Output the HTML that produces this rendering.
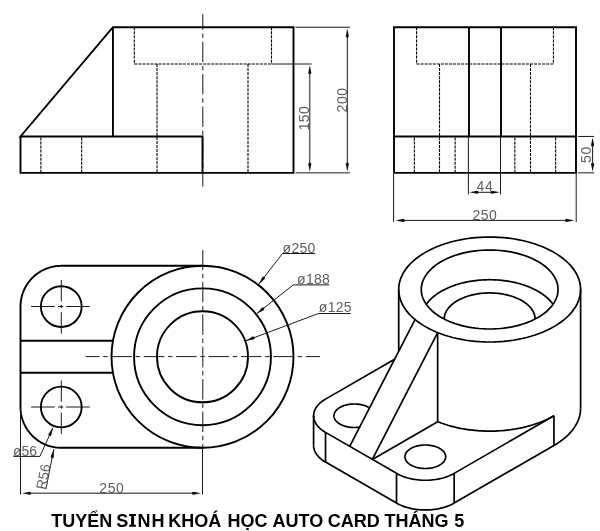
<!DOCTYPE html>
<html><head><meta charset="utf-8"><style>
html,body{margin:0;padding:0;background:#fff;width:600px;height:531px;overflow:hidden}
svg{display:block;filter:grayscale(1)}
text{font-family:"Liberation Sans",sans-serif;fill:#5e5e5e}
</style></head><body>
<svg width="600" height="531" viewBox="0 0 600 531">
<line x1="40.88" y1="172.85" x2="40.88" y2="136.45" stroke="#000" stroke-width="1.1" fill="none" stroke-dasharray="3 1.05"/>
<line x1="81.65" y1="172.85" x2="81.65" y2="136.45" stroke="#000" stroke-width="1.1" fill="none" stroke-dasharray="3 1.05"/>
<line x1="134.3" y1="27.25" x2="134.3" y2="64" stroke="#000" stroke-width="1.1" fill="none" stroke-dasharray="3 1.05"/>
<line x1="271.5" y1="27.25" x2="271.5" y2="64" stroke="#000" stroke-width="1.1" fill="none" stroke-dasharray="3 1.05"/>
<line x1="134.3" y1="64" x2="271.5" y2="64" stroke="#000" stroke-width="1.1" fill="none" stroke-dasharray="3 1.05"/>
<line x1="157" y1="64" x2="157" y2="172.85" stroke="#000" stroke-width="1.1" fill="none" stroke-dasharray="3 1.05"/>
<line x1="248" y1="64" x2="248" y2="172.85" stroke="#000" stroke-width="1.1" fill="none" stroke-dasharray="3 1.05"/>
<line x1="202.8" y1="14.2" x2="202.8" y2="29.75" stroke="#1a1a1a" stroke-width="1" fill="none"/>
<line x1="202.8" y1="33.45" x2="202.8" y2="37.95" stroke="#1a1a1a" stroke-width="1" fill="none"/>
<line x1="202.8" y1="41.65" x2="202.8" y2="62.15" stroke="#1a1a1a" stroke-width="1" fill="none"/>
<line x1="202.8" y1="65.85" x2="202.8" y2="70.35" stroke="#1a1a1a" stroke-width="1" fill="none"/>
<line x1="202.8" y1="74.05" x2="202.8" y2="94.55" stroke="#1a1a1a" stroke-width="1" fill="none"/>
<line x1="202.8" y1="98.25" x2="202.8" y2="102.75" stroke="#1a1a1a" stroke-width="1" fill="none"/>
<line x1="202.8" y1="106.45" x2="202.8" y2="126.95" stroke="#1a1a1a" stroke-width="1" fill="none"/>
<line x1="202.8" y1="130.65" x2="202.8" y2="135.15" stroke="#1a1a1a" stroke-width="1" fill="none"/>
<line x1="202.8" y1="138.85" x2="202.8" y2="159.35" stroke="#1a1a1a" stroke-width="1" fill="none"/>
<line x1="202.8" y1="163.05" x2="202.8" y2="167.55" stroke="#1a1a1a" stroke-width="1" fill="none"/>
<line x1="202.8" y1="171.25" x2="202.8" y2="186.7" stroke="#1a1a1a" stroke-width="1" fill="none"/>
<path d="M20.5 136.45 L20.5 172.85 L293.5 172.85 L293.5 27.25 L112.92 27.25 L20.5 136.45 L202.5 136.45 L202.5 172.85" stroke="#000" stroke-width="1.9" fill="none"/>
<line x1="112.92" y1="27.25" x2="112.92" y2="136.45" stroke="#000" stroke-width="1.9" fill="none"/>
<line x1="295.5" y1="27.25" x2="350" y2="27.25" stroke="#1a1a1a" stroke-width="1" fill="none"/>
<line x1="271.5" y1="64" x2="311.6" y2="64" stroke="#1a1a1a" stroke-width="1" fill="none"/>
<line x1="295.5" y1="172.85" x2="350" y2="172.85" stroke="#1a1a1a" stroke-width="1" fill="none"/>
<line x1="309.8" y1="72" x2="309.8" y2="164.85" stroke="#1a1a1a" stroke-width="1" fill="none"/>
<path d="M309.8 65.2 L311.35 72.8 A1.55 1.55 0 0 1 308.25 72.8 Z" fill="#111"/>
<path d="M309.8 171.65 L308.25 164.05 A1.55 1.55 0 0 1 311.35 164.05 Z" fill="#111"/>
<line x1="347.3" y1="35.25" x2="347.3" y2="164.85" stroke="#1a1a1a" stroke-width="1" fill="none"/>
<path d="M347.3 28.45 L348.85 36.05 A1.55 1.55 0 0 1 345.75 36.05 Z" fill="#111"/>
<path d="M347.3 171.65 L345.75 164.05 A1.55 1.55 0 0 1 348.85 164.05 Z" fill="#111"/>
<text x="309" y="118.3" font-size="14" text-anchor="middle" transform="rotate(-90 309 118.3)" textLength="24">150</text>
<text x="347" y="100.2" font-size="14" text-anchor="middle" transform="rotate(-90 347 100.2)" textLength="24.5">200</text>
<line x1="414.38" y1="172.85" x2="414.38" y2="136.45" stroke="#000" stroke-width="1.1" fill="none" stroke-dasharray="3 1.05"/>
<line x1="455.15" y1="172.85" x2="455.15" y2="136.45" stroke="#000" stroke-width="1.1" fill="none" stroke-dasharray="3 1.05"/>
<line x1="514.85" y1="172.85" x2="514.85" y2="136.45" stroke="#000" stroke-width="1.1" fill="none" stroke-dasharray="3 1.05"/>
<line x1="555.62" y1="172.85" x2="555.62" y2="136.45" stroke="#000" stroke-width="1.1" fill="none" stroke-dasharray="3 1.05"/>
<line x1="416.57" y1="27.25" x2="416.57" y2="64" stroke="#000" stroke-width="1.1" fill="none" stroke-dasharray="3 1.05"/>
<line x1="553.43" y1="27.25" x2="553.43" y2="64" stroke="#000" stroke-width="1.1" fill="none" stroke-dasharray="3 1.05"/>
<line x1="416.57" y1="64" x2="553.43" y2="64" stroke="#000" stroke-width="1.1" fill="none" stroke-dasharray="3 1.05"/>
<line x1="439.5" y1="64" x2="439.5" y2="172.85" stroke="#000" stroke-width="1.1" fill="none" stroke-dasharray="3 1.05"/>
<line x1="530.5" y1="64" x2="530.5" y2="172.85" stroke="#000" stroke-width="1.1" fill="none" stroke-dasharray="3 1.05"/>
<path d="M394 172.85 L576 172.85 L576 27.25 L394 27.25 L394 172.85" stroke="#000" stroke-width="1.9" fill="none"/>
<line x1="394" y1="136.45" x2="576" y2="136.45" stroke="#000" stroke-width="1.9" fill="none"/>
<line x1="468.98" y1="27.25" x2="468.98" y2="136.45" stroke="#000" stroke-width="1.9" fill="none"/>
<line x1="501.02" y1="27.25" x2="501.02" y2="136.45" stroke="#000" stroke-width="1.9" fill="none"/>
<line x1="468.4" y1="136.45" x2="468.4" y2="194.3" stroke="#1a1a1a" stroke-width="1" fill="none"/>
<line x1="500.5" y1="136.45" x2="500.5" y2="194.3" stroke="#1a1a1a" stroke-width="1" fill="none"/>
<line x1="476.4" y1="192.3" x2="492.5" y2="192.3" stroke="#1a1a1a" stroke-width="1" fill="none"/>
<path d="M469.4 192.3 L477 190.75 A1.55 1.55 0 0 1 477 193.85 Z" fill="#111"/>
<path d="M499.7 192.3 L492.1 193.85 A1.55 1.55 0 0 1 492.1 190.75 Z" fill="#111"/>
<text x="484.6" y="190.8" font-size="14" text-anchor="middle" textLength="16.2">44</text>
<line x1="393.6" y1="172.85" x2="393.6" y2="222" stroke="#1a1a1a" stroke-width="1" fill="none"/>
<line x1="576.2" y1="172.85" x2="576.2" y2="222" stroke="#1a1a1a" stroke-width="1" fill="none"/>
<line x1="402.6" y1="220.4" x2="567.2" y2="220.4" stroke="#1a1a1a" stroke-width="1" fill="none"/>
<path d="M395.6 220.4 L403.2 218.85 A1.55 1.55 0 0 1 403.2 221.95 Z" fill="#111"/>
<path d="M574.2 220.4 L566.6 221.95 A1.55 1.55 0 0 1 566.6 218.85 Z" fill="#111"/>
<text x="484.7" y="219.8" font-size="14" text-anchor="middle" textLength="24.4">250</text>
<line x1="578" y1="172.85" x2="594.2" y2="172.85" stroke="#1a1a1a" stroke-width="1" fill="none"/>
<line x1="578" y1="136.45" x2="594.2" y2="136.45" stroke="#1a1a1a" stroke-width="1" fill="none"/>
<line x1="592.6" y1="144.45" x2="592.6" y2="164.85" stroke="#1a1a1a" stroke-width="1" fill="none"/>
<path d="M592.6 137.45 L594.15 145.05 A1.55 1.55 0 0 1 591.05 145.05 Z" fill="#111"/>
<path d="M592.6 171.85 L591.05 164.25 A1.55 1.55 0 0 1 594.15 164.25 Z" fill="#111"/>
<text x="591.4" y="154.8" font-size="14" text-anchor="middle" transform="rotate(-90 591.4 154.8)" textLength="16.4">50</text>
<line x1="85.5" y1="356.6" x2="99.45" y2="356.6" stroke="#1a1a1a" stroke-width="1" fill="none"/>
<line x1="103.15" y1="356.6" x2="107.65" y2="356.6" stroke="#1a1a1a" stroke-width="1" fill="none"/>
<line x1="111.35" y1="356.6" x2="131.85" y2="356.6" stroke="#1a1a1a" stroke-width="1" fill="none"/>
<line x1="135.55" y1="356.6" x2="140.05" y2="356.6" stroke="#1a1a1a" stroke-width="1" fill="none"/>
<line x1="143.75" y1="356.6" x2="164.25" y2="356.6" stroke="#1a1a1a" stroke-width="1" fill="none"/>
<line x1="167.95" y1="356.6" x2="172.45" y2="356.6" stroke="#1a1a1a" stroke-width="1" fill="none"/>
<line x1="176.15" y1="356.6" x2="196.65" y2="356.6" stroke="#1a1a1a" stroke-width="1" fill="none"/>
<line x1="200.35" y1="356.6" x2="204.85" y2="356.6" stroke="#1a1a1a" stroke-width="1" fill="none"/>
<line x1="208.55" y1="356.6" x2="229.05" y2="356.6" stroke="#1a1a1a" stroke-width="1" fill="none"/>
<line x1="232.75" y1="356.6" x2="237.25" y2="356.6" stroke="#1a1a1a" stroke-width="1" fill="none"/>
<line x1="240.95" y1="356.6" x2="261.45" y2="356.6" stroke="#1a1a1a" stroke-width="1" fill="none"/>
<line x1="265.15" y1="356.6" x2="269.65" y2="356.6" stroke="#1a1a1a" stroke-width="1" fill="none"/>
<line x1="273.35" y1="356.6" x2="293.85" y2="356.6" stroke="#1a1a1a" stroke-width="1" fill="none"/>
<line x1="297.55" y1="356.6" x2="302.05" y2="356.6" stroke="#1a1a1a" stroke-width="1" fill="none"/>
<line x1="305.75" y1="356.6" x2="320" y2="356.6" stroke="#1a1a1a" stroke-width="1" fill="none"/>
<line x1="202.8" y1="250" x2="202.8" y2="270.05" stroke="#1a1a1a" stroke-width="1" fill="none"/>
<line x1="202.8" y1="273.75" x2="202.8" y2="278.25" stroke="#1a1a1a" stroke-width="1" fill="none"/>
<line x1="202.8" y1="281.95" x2="202.8" y2="302.45" stroke="#1a1a1a" stroke-width="1" fill="none"/>
<line x1="202.8" y1="306.15" x2="202.8" y2="310.65" stroke="#1a1a1a" stroke-width="1" fill="none"/>
<line x1="202.8" y1="314.35" x2="202.8" y2="334.85" stroke="#1a1a1a" stroke-width="1" fill="none"/>
<line x1="202.8" y1="338.55" x2="202.8" y2="343.05" stroke="#1a1a1a" stroke-width="1" fill="none"/>
<line x1="202.8" y1="346.75" x2="202.8" y2="367.25" stroke="#1a1a1a" stroke-width="1" fill="none"/>
<line x1="202.8" y1="370.95" x2="202.8" y2="375.45" stroke="#1a1a1a" stroke-width="1" fill="none"/>
<line x1="202.8" y1="379.15" x2="202.8" y2="399.65" stroke="#1a1a1a" stroke-width="1" fill="none"/>
<line x1="202.8" y1="403.35" x2="202.8" y2="407.85" stroke="#1a1a1a" stroke-width="1" fill="none"/>
<line x1="202.8" y1="411.55" x2="202.8" y2="432.05" stroke="#1a1a1a" stroke-width="1" fill="none"/>
<line x1="202.8" y1="435.75" x2="202.8" y2="440.25" stroke="#1a1a1a" stroke-width="1" fill="none"/>
<line x1="202.8" y1="443.95" x2="202.8" y2="447" stroke="#1a1a1a" stroke-width="1" fill="none"/>
<line x1="31.1" y1="306.5" x2="54.75" y2="306.5" stroke="#1a1a1a" stroke-width="1" fill="none"/>
<line x1="58" y1="306.5" x2="63.3" y2="306.5" stroke="#1a1a1a" stroke-width="1" fill="none"/>
<line x1="66.1" y1="306.5" x2="89.8" y2="306.5" stroke="#1a1a1a" stroke-width="1" fill="none"/>
<line x1="61.3" y1="280" x2="61.3" y2="301.4" stroke="#1a1a1a" stroke-width="1" fill="none"/>
<line x1="61.3" y1="304.8" x2="61.3" y2="308.2" stroke="#1a1a1a" stroke-width="1" fill="none"/>
<line x1="61.3" y1="312.2" x2="61.3" y2="333.6" stroke="#1a1a1a" stroke-width="1" fill="none"/>
<line x1="31.1" y1="407" x2="54.75" y2="407" stroke="#1a1a1a" stroke-width="1" fill="none"/>
<line x1="58" y1="407" x2="63.3" y2="407" stroke="#1a1a1a" stroke-width="1" fill="none"/>
<line x1="66.1" y1="407" x2="89.8" y2="407" stroke="#1a1a1a" stroke-width="1" fill="none"/>
<line x1="61.3" y1="380.5" x2="61.3" y2="401.9" stroke="#1a1a1a" stroke-width="1" fill="none"/>
<line x1="61.3" y1="405.3" x2="61.3" y2="408.7" stroke="#1a1a1a" stroke-width="1" fill="none"/>
<line x1="61.3" y1="412.7" x2="61.3" y2="434.1" stroke="#1a1a1a" stroke-width="1" fill="none"/>
<circle cx="202.5" cy="356.8" r="91" stroke="#000" stroke-width="1.9" fill="none"/>
<circle cx="202.5" cy="356.8" r="68.43" stroke="#000" stroke-width="1.9" fill="none"/>
<circle cx="202.5" cy="356.8" r="45.5" stroke="#000" stroke-width="1.9" fill="none"/>
<circle cx="61.27" cy="306.57" r="20.38" stroke="#000" stroke-width="1.9" fill="none"/>
<circle cx="61.27" cy="407.03" r="20.38" stroke="#000" stroke-width="1.9" fill="none"/>
<path d="M202.5 265.8 L61.27 265.8 L59.67 265.83 L58.07 265.93 L56.48 266.08 L54.89 266.3 L53.31 266.58 L51.75 266.93 L50.2 267.33 L48.67 267.8 L47.16 268.32 L45.67 268.9 L44.2 269.54 L42.76 270.24 L41.35 271 L39.97 271.81 L38.62 272.67 L37.31 273.59 L36.03 274.55 L34.79 275.57 L33.59 276.63 L32.44 277.74 L31.33 278.89 L30.27 280.09 L29.25 281.33 L28.29 282.61 L27.37 283.92 L26.51 285.27 L25.7 286.65 L24.94 288.06 L24.24 289.5 L23.6 290.97 L23.02 292.46 L22.5 293.97 L22.03 295.5 L21.63 297.05 L21.28 298.61 L21 300.19 L20.78 301.78 L20.63 303.37 L20.53 304.97 L20.5 306.57 L20.5 407.03 L20.53 408.63 L20.63 410.23 L20.78 411.82 L21 413.41 L21.28 414.99 L21.63 416.55 L22.03 418.1 L22.5 419.63 L23.02 421.14 L23.6 422.63 L24.24 424.1 L24.94 425.54 L25.7 426.95 L26.51 428.33 L27.37 429.68 L28.29 430.99 L29.25 432.27 L30.27 433.51 L31.33 434.71 L32.44 435.86 L33.59 436.97 L34.79 438.03 L36.03 439.05 L37.31 440.01 L38.62 440.93 L39.97 441.79 L41.35 442.6 L42.76 443.36 L44.2 444.06 L45.67 444.7 L47.16 445.28 L48.67 445.8 L50.2 446.27 L51.75 446.67 L53.31 447.02 L54.89 447.3 L56.48 447.52 L58.07 447.67 L59.67 447.77 L61.27 447.8 L202.5 447.8" stroke="#000" stroke-width="1.9" fill="none"/>
<line x1="20.5" y1="340.78" x2="112.92" y2="340.78" stroke="#000" stroke-width="1.9" fill="none"/>
<line x1="20.5" y1="372.82" x2="112.92" y2="372.82" stroke="#000" stroke-width="1.9" fill="none"/>
<line x1="20.5" y1="407.76" x2="20.5" y2="494.5" stroke="#1a1a1a" stroke-width="1" fill="none"/>
<line x1="202.5" y1="447.8" x2="202.5" y2="494.5" stroke="#1a1a1a" stroke-width="1" fill="none"/>
<line x1="29.5" y1="493.2" x2="193.5" y2="493.2" stroke="#1a1a1a" stroke-width="1" fill="none"/>
<path d="M22 493.2 L29.6 491.65 A1.55 1.55 0 0 1 29.6 494.75 Z" fill="#111"/>
<path d="M201 493.2 L193.4 494.75 A1.55 1.55 0 0 1 193.4 491.65 Z" fill="#111"/>
<text x="111.6" y="492.6" font-size="14" text-anchor="middle" textLength="24.5">250</text>
<line x1="282.5" y1="253.5" x2="315.1" y2="253.5" stroke="#1a1a1a" stroke-width="1" fill="none"/>
<line x1="282.5" y1="253.5" x2="258.79" y2="284.16" stroke="#1a1a1a" stroke-width="1" fill="none"/>
<path d="M258.79 284.16 L262.21 277.2 A1.55 1.55 0 0 1 264.67 279.09 Z" fill="#111"/>
<text x="282.6" y="252.5" font-size="14" text-anchor="start" textLength="32.8">&#248;250</text>
<line x1="293.2" y1="284.9" x2="329.2" y2="284.9" stroke="#1a1a1a" stroke-width="1" fill="none"/>
<line x1="293.2" y1="284.9" x2="256.78" y2="313.67" stroke="#1a1a1a" stroke-width="1" fill="none"/>
<path d="M256.78 313.67 L261.79 307.74 A1.55 1.55 0 0 1 263.71 310.18 Z" fill="#111"/>
<text x="297.1" y="284.4" font-size="14" text-anchor="start" textLength="32.8">&#248;188</text>
<line x1="318.5" y1="313.5" x2="350.9" y2="313.5" stroke="#1a1a1a" stroke-width="1" fill="none"/>
<line x1="318.5" y1="313.5" x2="246.01" y2="340.67" stroke="#1a1a1a" stroke-width="1" fill="none"/>
<path d="M246.01 340.67 L252.58 336.55 A1.55 1.55 0 0 1 253.67 339.46 Z" fill="#111"/>
<text x="318.8" y="312.3" font-size="14" text-anchor="start" textLength="32.8">&#248;125</text>
<line x1="13.3" y1="456.4" x2="39.9" y2="456.4" stroke="#1a1a1a" stroke-width="1" fill="none"/>
<line x1="39.9" y1="456.4" x2="53" y2="427.6" stroke="#1a1a1a" stroke-width="1" fill="none"/>
<path d="M53 427.6 L51.26 435.16 A1.55 1.55 0 0 1 48.44 433.88 Z" fill="#111"/>
<text x="13" y="456.1" font-size="14" text-anchor="start">&#248;56</text>
<line x1="45.9" y1="489.3" x2="53.8" y2="449.2" stroke="#1a1a1a" stroke-width="1" fill="none"/>
<path d="M53.8 449.2 L53.85 456.96 A1.55 1.55 0 0 1 50.81 456.36 Z" fill="#111"/>
<text x="45.6" y="490.3" font-size="14" text-anchor="start" transform="rotate(-78.86 45.6 490.3)">R56</text>
<path d="M553.96 252.37 L557.24 254.36 L560.33 256.45 L563.23 258.63 L565.93 260.9 L568.42 263.24 L570.69 265.66 L572.74 268.14 L574.56 270.68 L576.15 273.27 L577.5 275.91 L578.62 278.58 L579.48 281.29 L580.1 284.01 L580.48 286.75 L580.6 289.5 L580.48 292.25 L580.1 294.99 L579.48 297.71 L578.62 300.42 L577.5 303.09 L576.15 305.73 L574.56 308.32 L572.74 310.86 L570.69 313.34 L568.42 315.76 L565.93 318.1 L563.23 320.37 L560.33 322.55 L557.24 324.64 L553.96 326.63 L550.51 328.52 L546.89 330.31 L543.11 331.98 L539.19 333.54 L535.13 334.98 L530.94 336.29 L526.64 337.47 L522.24 338.52 L517.76 339.44 L513.19 340.22 L508.56 340.86 L503.88 341.37 L499.16 341.72 L494.41 341.94 L489.65 342.01 L484.89 341.94 L480.14 341.72 L475.42 341.37 L470.74 340.86 L466.11 340.22 L461.54 339.44 L457.06 338.52 L452.66 337.47 L448.36 336.29 L444.17 334.98 L440.11 333.54 L436.19 331.98 L432.41 330.31 L428.79 328.52 L425.34 326.63 L422.06 324.64 L418.97 322.55 L416.07 320.37 L413.37 318.1 L410.88 315.76 L408.61 313.34 L406.56 310.86 L404.74 308.32 L403.15 305.73 L401.8 303.09 L400.68 300.42 L399.82 297.71 L399.2 294.99 L398.82 292.25 L398.7 289.5 L398.82 286.75 L399.2 284.01 L399.82 281.29 L400.68 278.58 L401.8 275.91 L403.15 273.27 L404.74 270.68 L406.56 268.14 L408.61 265.66 L410.88 263.24 L413.37 260.9 L416.07 258.63 L418.97 256.45 L422.06 254.36 L425.34 252.37 L428.79 250.48 L432.41 248.69 L436.19 247.02 L440.11 245.46 L444.17 244.02 L448.36 242.71 L452.66 241.53 L457.06 240.48 L461.54 239.56 L466.11 238.78 L470.74 238.14 L475.42 237.63 L480.14 237.28 L484.89 237.06 L489.65 236.99 L494.41 237.06 L499.16 237.28 L503.88 237.63 L508.56 238.14 L513.19 238.78 L517.76 239.56 L522.24 240.48 L526.64 241.53 L530.94 242.71 L535.13 244.02 L539.19 245.46 L543.11 247.02 L546.89 248.69 L550.51 250.48 L553.96 252.37" stroke="#000" stroke-width="1.7" fill="none"/>
<path d="M538.01 261.58 L540.48 263.08 L542.8 264.65 L544.98 266.29 L547.01 267.99 L548.88 269.76 L550.59 271.57 L552.13 273.44 L553.5 275.35 L554.7 277.3 L555.72 279.28 L556.55 281.29 L557.2 283.32 L557.67 285.37 L557.95 287.43 L558.05 289.5 L557.95 291.57 L557.67 293.63 L557.2 295.68 L556.55 297.71 L555.72 299.72 L554.7 301.7 L553.5 303.65 L552.13 305.56 L550.59 307.43 L548.88 309.24 L547.01 311.01 L544.98 312.71 L542.8 314.35 L540.48 315.92 L538.01 317.42 L535.42 318.85 L532.69 320.19 L529.85 321.45 L526.9 322.62 L523.85 323.7 L520.7 324.68 L517.47 325.57 L514.16 326.37 L510.79 327.06 L507.35 327.64 L503.87 328.13 L500.35 328.5 L496.8 328.77 L493.23 328.93 L489.65 328.99 L486.07 328.93 L482.5 328.77 L478.95 328.5 L475.43 328.13 L471.95 327.64 L468.51 327.06 L465.14 326.37 L461.83 325.57 L458.6 324.68 L455.45 323.7 L452.4 322.62 L449.45 321.45 L446.61 320.19 L443.88 318.85 L441.29 317.42 L438.82 315.92 L436.5 314.35 L434.32 312.71 L432.29 311.01 L430.42 309.24 L428.71 307.43 L427.17 305.56 L425.8 303.65 L424.6 301.7 L423.58 299.72 L422.75 297.71 L422.1 295.68 L421.63 293.63 L421.35 291.57 L421.25 289.5 L421.35 287.43 L421.63 285.37 L422.1 283.32 L422.75 281.29 L423.58 279.28 L424.6 277.3 L425.8 275.35 L427.17 273.44 L428.71 271.57 L430.42 269.76 L432.29 267.99 L434.32 266.29 L436.5 264.65 L438.82 263.08 L441.29 261.58 L443.88 260.15 L446.61 258.81 L449.45 257.55 L452.4 256.38 L455.45 255.3 L458.6 254.32 L461.83 253.43 L465.14 252.63 L468.51 251.94 L471.95 251.36 L475.43 250.87 L478.95 250.5 L482.5 250.23 L486.07 250.07 L489.65 250.01 L493.23 250.07 L496.8 250.23 L500.35 250.5 L503.87 250.87 L507.35 251.36 L510.79 251.94 L514.16 252.63 L517.47 253.43 L520.7 254.32 L523.85 255.3 L526.9 256.38 L529.85 257.55 L532.69 258.81 L535.42 260.15 L538.01 261.58" stroke="#000" stroke-width="1.7" fill="none"/>
<path d="M426.46 304.09 L427.26 303.03 L428.11 301.97 L429.02 300.93 L429.97 299.91 L430.98 298.9 L432.05 297.92 L433.16 296.94 L434.32 295.99 L435.52 295.06 L436.78 294.15 L438.08 293.27 L439.43 292.4 L440.81 291.56 L442.25 290.74 L443.72 289.95 L445.23 289.18 L446.78 288.44 L448.37 287.72 L449.99 287.03 L451.65 286.37 L453.34 285.74 L455.06 285.14 L456.82 284.56 L458.6 284.02 L460.41 283.51 L462.24 283.03 L464.1 282.58 L465.98 282.16 L467.88 281.77 L469.8 281.42 L471.73 281.1 L473.68 280.81 L475.65 280.55 L477.63 280.33 L479.61 280.14 L481.61 279.99 L483.61 279.87 L485.62 279.78 L487.64 279.73 L489.65 279.72 L491.66 279.73 L493.68 279.78 L495.69 279.87 L497.69 279.99 L499.69 280.14 L501.67 280.33 L503.65 280.55 L505.62 280.81 L507.57 281.1 L509.5 281.42 L511.42 281.77 L513.32 282.16 L515.2 282.58 L517.06 283.03 L518.89 283.51 L520.7 284.02 L522.48 284.56 L524.24 285.14 L525.96 285.74 L527.65 286.37 L529.31 287.03 L530.93 287.72 L532.52 288.44 L534.07 289.18 L535.58 289.95 L537.05 290.74 L538.49 291.56 L539.87 292.4 L541.22 293.27 L542.52 294.15 L543.78 295.06 L544.98 295.99 L546.14 296.94 L547.25 297.92 L548.32 298.9 L549.33 299.91 L550.28 300.93 L551.19 301.97 L552.04 303.03 L552.84 304.09" stroke="#000" stroke-width="1.7" fill="none"/>
<path d="M444.18 318.98 L444.23 317.95 L444.35 316.93 L444.53 315.91 L444.79 314.89 L445.12 313.89 L445.51 312.89 L445.97 311.9 L446.5 310.92 L447.09 309.95 L447.75 309 L448.47 308.06 L449.26 307.14 L450.1 306.24 L451.01 305.36 L451.98 304.5 L453 303.66 L454.08 302.85 L455.21 302.06 L456.4 301.29 L457.63 300.56 L458.92 299.85 L460.25 299.17 L461.63 298.53 L463.05 297.91 L464.51 297.33 L466.01 296.78 L467.54 296.26 L469.11 295.78 L470.71 295.33 L472.34 294.93 L473.99 294.55 L475.67 294.22 L477.37 293.92 L479.09 293.67 L480.83 293.45 L482.58 293.27 L484.33 293.13 L486.1 293.03 L487.87 292.97 L489.65 292.95 L491.43 292.97 L493.2 293.03 L494.97 293.13 L496.72 293.27 L498.47 293.45 L500.21 293.67 L501.93 293.92 L503.63 294.22 L505.31 294.55 L506.96 294.93 L508.59 295.33 L510.19 295.78 L511.76 296.26 L513.29 296.78 L514.79 297.33 L516.25 297.91 L517.67 298.53 L519.05 299.17 L520.38 299.85 L521.67 300.56 L522.9 301.29 L524.09 302.06 L525.22 302.85 L526.3 303.66 L527.32 304.5 L528.29 305.36 L529.2 306.24 L530.04 307.14 L530.83 308.06 L531.55 309 L532.21 309.95 L532.8 310.92 L533.33 311.9 L533.79 312.89 L534.18 313.89 L534.51 314.89 L534.77 315.91 L534.95 316.93 L535.07 317.95 L535.12 318.98" stroke="#000" stroke-width="1.7" fill="none"/>
<line x1="349.7" y1="446.34" x2="415.02" y2="319.52" stroke="#000" stroke-width="1.7" fill="none"/>
<line x1="372.34" y1="459.41" x2="437.66" y2="332.59" stroke="#000" stroke-width="1.7" fill="none"/>
<line x1="437.66" y1="332.59" x2="437.66" y2="421.7" stroke="#000" stroke-width="1.7" fill="none"/>
<line x1="372.34" y1="459.41" x2="437.66" y2="421.7" stroke="#000" stroke-width="1.7" fill="none"/>
<line x1="580.6" y1="289.5" x2="580.6" y2="408.32" stroke="#000" stroke-width="1.7" fill="none"/>
<line x1="398.7" y1="289.5" x2="398.7" y2="351.21" stroke="#000" stroke-width="1.7" fill="none"/>
<path d="M580.6 408.32 L580.57 409.69 L580.48 411.07 L580.32 412.44 L580.1 413.81 L579.82 415.17 L579.48 416.53 L579.08 417.89 L578.62 419.24 L578.09 420.58 L577.5 421.91 L576.86 423.23 L576.15 424.55 L575.39 425.85 L574.56 427.14 L573.68 428.42 L572.74 429.68 L571.74 430.93 L570.69 432.16 L569.58 433.38 L568.42 434.58 L567.2 435.76 L565.93 436.92 L564.61 438.06 L563.23 439.19 L561.81 440.29 L560.33 441.37 L558.81 442.42 L557.24 443.46 L555.62 444.47 L553.96 445.45" stroke="#000" stroke-width="1.7" fill="none"/>
<path d="M553.96 415.75 L552.15 416.77 L550.28 417.76 L548.37 418.72 L546.41 419.65 L544.4 420.55 L542.36 421.41 L540.27 422.24 L538.15 423.04 L535.98 423.8 L533.78 424.53 L531.55 425.22 L529.28 425.88 L526.99 426.5 L524.66 427.08 L522.31 427.63 L519.93 428.13 L517.52 428.6 L515.1 429.03 L512.66 429.42 L510.19 429.77 L507.72 430.08 L505.23 430.35 L502.72 430.58 L500.21 430.77 L497.69 430.92 L495.16 431.03 L492.62 431.1 L490.09 431.13 L487.55 431.11 L485.02 431.06 L482.49 430.96 L479.97 430.83 L477.45 430.65 L474.94 430.44 L472.44 430.18 L469.96 429.88 L467.49 429.54 L465.04 429.17 L462.61 428.75 L460.2 428.3 L457.82 427.8 L455.45 427.27 L453.12 426.7 L450.81 426.1 L448.53 425.45 L446.29 424.77 L444.08 424.06 L441.9 423.31 L439.76 422.52 L437.66 421.7" stroke="#000" stroke-width="1.7" fill="none"/>
<path d="M553.96 415.75 L454.15 473.37 L452.6 474.22 L450.98 475.02 L449.29 475.77 L447.53 476.47 L445.71 477.11 L443.84 477.7 L441.91 478.23 L439.94 478.7 L437.93 479.11 L435.88 479.46 L433.81 479.75 L431.71 479.97 L429.6 480.14 L427.47 480.23 L425.34 480.26 L423.2 480.23 L421.08 480.14 L418.96 479.97 L416.87 479.75 L414.79 479.46 L412.75 479.11 L410.73 478.7 L408.76 478.23 L406.84 477.7 L404.96 477.11 L403.14 476.47 L401.39 475.77 L399.69 475.02 L398.07 474.22 L396.52 473.37 L325.52 432.38 L324.05 431.49 L322.67 430.55 L321.37 429.57 L320.16 428.56 L319.05 427.51 L318.03 426.43 L317.11 425.31 L316.29 424.18 L315.58 423.02 L314.98 421.84 L314.48 420.64 L314.09 419.43 L313.81 418.21 L313.64 416.98 L313.59 415.75 L313.64 414.52 L313.81 413.29 L314.09 412.07 L314.48 410.86 L314.98 409.66 L315.58 408.48 L316.29 407.32 L317.11 406.18 L318.03 405.07 L319.05 403.98 L320.16 402.93 L321.37 401.92 L322.67 400.94 L324.05 400 L325.52 399.11 L394.56 359.26" stroke="#000" stroke-width="1.7" fill="none"/>
<path d="M313.59 445.45 L313.64 446.68 L313.81 447.91 L314.09 449.13 L314.48 450.34 L314.98 451.54 L315.58 452.72 L316.29 453.88 L317.11 455.02 L318.03 456.13 L319.05 457.21 L320.16 458.26 L321.37 459.28 L322.67 460.26 L324.05 461.19 L325.52 462.09 L396.52 503.08 L398.07 503.93 L399.69 504.73 L401.39 505.48 L403.14 506.17 L404.96 506.82 L406.84 507.41 L408.76 507.94 L410.73 508.41 L412.75 508.82 L414.79 509.17 L416.87 509.46 L418.96 509.68 L421.08 509.84 L423.2 509.94 L425.34 509.97 L427.47 509.94 L429.6 509.84 L431.71 509.68 L433.81 509.46 L435.88 509.17 L437.93 508.82 L439.94 508.41 L441.91 507.94 L443.84 507.41 L445.71 506.82 L447.53 506.17 L449.29 505.48 L450.98 504.73 L452.6 503.93 L454.15 503.08 L553.96 445.45" stroke="#000" stroke-width="1.7" fill="none"/>
<line x1="313.59" y1="445.45" x2="313.59" y2="415.75" stroke="#000" stroke-width="1.7" fill="none"/>
<line x1="325.52" y1="462.09" x2="325.52" y2="432.38" stroke="#000" stroke-width="1.7" fill="none"/>
<line x1="396.52" y1="503.08" x2="396.52" y2="473.37" stroke="#000" stroke-width="1.7" fill="none"/>
<line x1="454.15" y1="503.08" x2="454.15" y2="473.37" stroke="#000" stroke-width="1.7" fill="none"/>
<line x1="553.96" y1="445.45" x2="553.96" y2="415.75" stroke="#000" stroke-width="1.7" fill="none"/>
<path d="M439.74 448.42 L440.83 449.1 L441.82 449.83 L442.71 450.59 L443.49 451.4 L444.16 452.24 L444.71 453.1 L445.15 453.99 L445.46 454.9 L445.65 455.82 L445.71 456.74 L445.65 457.66 L445.46 458.58 L445.15 459.49 L444.71 460.37 L444.16 461.24 L443.49 462.08 L442.71 462.89 L441.82 463.65 L440.83 464.38 L439.74 465.06 L438.57 465.68 L437.31 466.26 L435.98 466.77 L434.59 467.22 L433.13 467.61 L431.63 467.93 L430.09 468.18 L428.52 468.36 L426.94 468.47 L425.34 468.5 L423.74 468.47 L422.15 468.36 L420.58 468.18 L419.04 467.93 L417.54 467.61 L416.09 467.22 L414.69 466.77 L413.36 466.26 L412.11 465.68 L410.93 465.06 L409.84 464.38 L408.85 463.65 L407.97 462.89 L407.18 462.08 L406.51 461.24 L405.96 460.37 L405.53 459.49 L405.21 458.58 L405.03 457.66 L404.96 456.74 L405.03 455.82 L405.21 454.9 L405.53 453.99 L405.96 453.1 L406.51 452.24 L407.18 451.4 L407.97 450.59 L408.85 449.83 L409.84 449.1 L410.93 448.42 L412.11 447.79 L413.36 447.22 L414.69 446.71 L416.09 446.26 L417.54 445.87 L419.04 445.55 L420.58 445.3 L422.15 445.12 L423.74 445.01 L425.34 444.98 L426.94 445.01 L428.52 445.12 L430.09 445.3 L431.63 445.55 L433.13 445.87 L434.59 446.26 L435.98 446.71 L437.31 447.22 L438.57 447.79 L439.74 448.42" stroke="#000" stroke-width="1.7" fill="none"/>
<path d="M368.74 407.43 L368.99 407.58 L369.24 407.72 L369.48 407.88" stroke="#000" stroke-width="1.7" fill="none"/>
<path d="M359.61 427.11 L359.26 427.16 L358.92 427.21 L358.57 427.25 L358.22 427.29 L357.87 427.33 L357.52 427.36 L357.17 427.39 L356.82 427.42 L356.46 427.44 L356.11 427.46 L355.76 427.48 L355.4 427.49 L355.05 427.5 L354.69 427.51 L354.34 427.51 L353.98 427.51 L353.62 427.5 L353.27 427.49 L352.91 427.48 L352.56 427.46 L352.21 427.44 L351.85 427.42 L351.5 427.39 L351.15 427.36 L350.8 427.33 L350.45 427.29 L350.1 427.25 L349.75 427.21 L349.41 427.16 L349.06 427.11 L348.72 427.05 L348.38 426.99 L348.04 426.93 L347.7 426.87 L347.37 426.8 L347.03 426.73 L346.7 426.65 L346.37 426.57 L346.05 426.49 L345.72 426.41 L345.4 426.32 L345.09 426.23 L344.77 426.13 L344.46 426.03 L344.15 425.93 L343.84 425.83 L343.54 425.72 L343.24 425.61 L342.94 425.5 L342.65 425.38 L342.36 425.26 L342.07 425.14 L341.79 425.02 L341.51 424.89 L341.24 424.76 L340.97 424.62 L340.7 424.49 L340.44 424.35 L340.18 424.21 L339.93 424.06 L339.68 423.92 L339.43 423.77 L339.19 423.62 L338.96 423.46 L338.73 423.31 L338.5 423.15 L338.28 422.99 L338.06 422.83 L337.85 422.66 L337.65 422.49 L337.44 422.32 L337.25 422.15 L337.06 421.98 L336.87 421.8 L336.69 421.63 L336.52 421.45 L336.35 421.27 L336.18 421.09 L336.02 420.9 L335.87 420.72 L335.72 420.53 L335.58 420.34 L335.45 420.15 L335.31 419.96 L335.19 419.77 L335.07 419.58 L334.96 419.38 L334.85 419.19 L334.75 418.99 L334.66 418.79 L334.57 418.59 L334.48 418.39 L334.41 418.19 L334.34 417.99 L334.27 417.79 L334.21 417.59 L334.16 417.38 L334.11 417.18 L334.07 416.98 L334.04 416.77 L334.01 416.57 L333.99 416.36 L333.97 416.16 L333.96 415.95 L333.96 415.75 L333.96 415.54 L333.97 415.34 L333.99 415.13 L334.01 414.93 L334.04 414.72 L334.07 414.52 L334.11 414.31 L334.16 414.11 L334.21 413.91 L334.27 413.7 L334.34 413.5 L334.41 413.3 L334.48 413.1 L334.57 412.9 L334.66 412.7 L334.75 412.5 L334.85 412.31 L334.96 412.11 L335.07 411.92 L335.19 411.72 L335.31 411.53 L335.45 411.34 L335.58 411.15 L335.72 410.96 L335.87 410.78 L336.02 410.59 L336.18 410.41 L336.35 410.22 L336.52 410.04 L336.69 409.86 L336.87 409.69 L337.06 409.51 L337.25 409.34 L337.44 409.17 L337.65 409 L337.85 408.83 L338.06 408.67 L338.28 408.5 L338.5 408.34 L338.73 408.19 L338.96 408.03 L339.19 407.88 L339.43 407.72 L339.68 407.58 L339.93 407.43 L340.18 407.28 L340.44 407.14 L340.7 407 L340.97 406.87 L341.24 406.74 L341.51 406.61 L341.79 406.48 L342.07 406.35 L342.36 406.23 L342.65 406.11 L342.94 405.99 L343.24 405.88 L343.54 405.77 L343.84 405.66 L344.15 405.56 L344.46 405.46 L344.77 405.36 L345.09 405.27 L345.4 405.17 L345.72 405.09 L346.05 405 L346.37 404.92 L346.7 404.84 L347.03 404.76 L347.37 404.69 L347.7 404.62 L348.04 404.56 L348.38 404.5 L348.72 404.44 L349.06 404.38 L349.41 404.33 L349.75 404.29 L350.1 404.24 L350.45 404.2 L350.8 404.16 L351.15 404.13 L351.5 404.1 L351.85 404.07 L352.21 404.05 L352.56 404.03 L352.91 404.01 L353.27 404 L353.62 403.99 L353.98 403.99 L354.34 403.98 L354.69 403.99 L355.05 403.99 L355.4 404 L355.76 404.01 L356.11 404.03 L356.46 404.05 L356.82 404.07 L357.17 404.1 L357.52 404.13 L357.87 404.16 L358.22 404.2 L358.57 404.24 L358.92 404.29 L359.26 404.33 L359.61 404.38 L359.95 404.44 L360.29 404.5 L360.63 404.56 L360.97 404.62 L361.3 404.69 L361.64 404.76 L361.97 404.84 L362.3 404.92 L362.62 405 L362.95 405.09 L363.27 405.17 L363.58 405.27 L363.9 405.36 L364.21 405.46 L364.52 405.56 L364.83 405.66 L365.13 405.77 L365.43 405.88 L365.73 405.99 L366.02 406.11 L366.31 406.23 L366.6 406.35 L366.88 406.48 L367.16 406.61 L367.43 406.74 L367.7 406.87 L367.97 407 L368.23 407.14 L368.49 407.28 L368.74 407.43" stroke="#000" stroke-width="1.7" fill="none"/>
<text x="51.3" y="526.7" font-size="18" font-weight="bold" style="fill:#000">TUY&#7874;N</text><text x="116.2" y="526.7" font-size="18" font-weight="bold" style="fill:#000">S</text><path d="M129.1 514.1H135.9V516.1H134.1V524.8H135.9V526.75H129.1V524.8H131.1V516.1H129.1Z" fill="#000"/><text x="137.5" y="526.7" font-size="18" font-weight="bold" style="fill:#000">N</text><text x="151.6" y="526.7" font-size="18" font-weight="bold" style="fill:#000">H</text><text x="168.2" y="526.7" font-size="18" font-weight="bold" style="fill:#000">KHO&#193;</text><text x="227.5" y="526.7" font-size="18" font-weight="bold" style="fill:#000">H&#7884;C</text><text x="272.5" y="526.7" font-size="18" font-weight="bold" style="fill:#000">AUTO</text><text x="327.7" y="526.7" font-size="18" font-weight="bold" style="fill:#000">CARD</text><text x="384.5" y="526.7" font-size="18" font-weight="bold" style="fill:#000">TH&#193;NG</text><text x="454.2" y="526.7" font-size="18" font-weight="bold" style="fill:#000">5</text>
</svg>
</body></html>
